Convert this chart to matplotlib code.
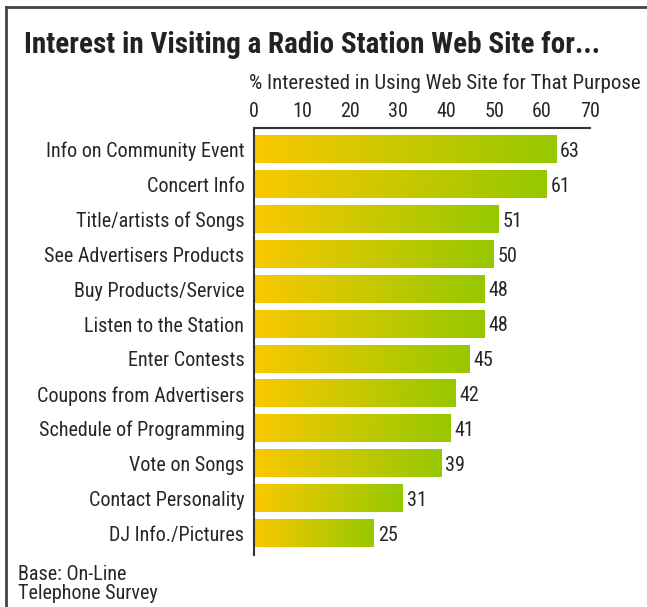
import numpy as np
import matplotlib.pyplot as plt
from matplotlib.colors import LinearSegmentedColormap
from matplotlib.lines import Line2D

categories = [
    "Info on Community Event",
    "Concert Info",
    "Title/artists of Songs",
    "See Advertisers Products",
    "Buy Products/Service",
    "Listen to the Station",
    "Enter Contests",
    "Coupons from Advertisers",
    "Schedule of Programming",
    "Vote on Songs",
    "Contact Personality",
    "DJ Info./Pictures",
]
values = [63, 61, 51, 50, 48, 48, 45, 42, 41, 39, 31, 25]
ticks = [0, 10, 20, 30, 40, 50, 60, 70]

plt.rcParams["font.family"] = ["Roboto Condensed", "DejaVu Sans"]
TXT = "#262626"

fig = plt.figure(figsize=(6.47, 6.07), dpi=100)
ax = fig.add_axes([254 / 647, 1 - 555 / 607, (590 - 254) / 647, (555 - 128) / 607])

cmap = LinearSegmentedColormap.from_list("yg", ["#fac800", "#c8c800", "#96c800"])
grad = np.linspace(0, 1, 256).reshape(1, -1)
h = 0.78
for i, v in enumerate(values):
    ax.imshow(grad, cmap=cmap, aspect="auto", extent=[0, v, i + h / 2, i - h / 2],
              interpolation="bilinear", zorder=2)
    ax.text(v + 0.8, i + 0.05, str(v), va="center", ha="left", fontsize=14.5, color=TXT)

ax.set_xlim(0, 70)
ax.set_ylim(len(values) - 0.38, -0.62)
ax.set_yticks(range(len(categories)))
ax.set_yticklabels(categories, fontsize=14.5, color=TXT)
ax.set_xticks(ticks)
ax.set_xticklabels([str(t) for t in ticks], fontsize=14.5, color=TXT)
ax.xaxis.tick_top()
ax.tick_params(axis="y", length=0, pad=7)
ax.tick_params(axis="x", length=0, pad=5)
for s in ["right", "bottom"]:
    ax.spines[s].set_visible(False)
for s in ["top", "left"]:
    ax.spines[s].set_linewidth(1.5)
    ax.spines[s].set_color("#333333")

fig.text(249 / 647, 1 - 83 / 607, "% Interested in Using Web Site for That Purpose",
         fontsize=15, color=TXT, va="center", ha="left")
fig.text(24 / 647, 1 - 45 / 607, "Interest in Visiting a Radio Station Web Site for...",
         fontsize=21, fontweight="bold", color="#222222", va="center", ha="left")
fig.text(18 / 647, 1 - 584 / 607, "Base: On-Line\nTelephone Survey",
         fontsize=14.5, color=TXT, va="center", ha="left", linespacing=0.95)

# frame around the chart (left and top edges)
fig.add_artist(Line2D([6 / 647, 6 / 647], [0, 1 - 7 / 607], color="#444444", lw=2))
fig.add_artist(Line2D([6 / 647, 1], [1 - 7 / 607, 1 - 7 / 607], color="#444444", lw=2))

fig.savefig("out.png", dpi=100)
